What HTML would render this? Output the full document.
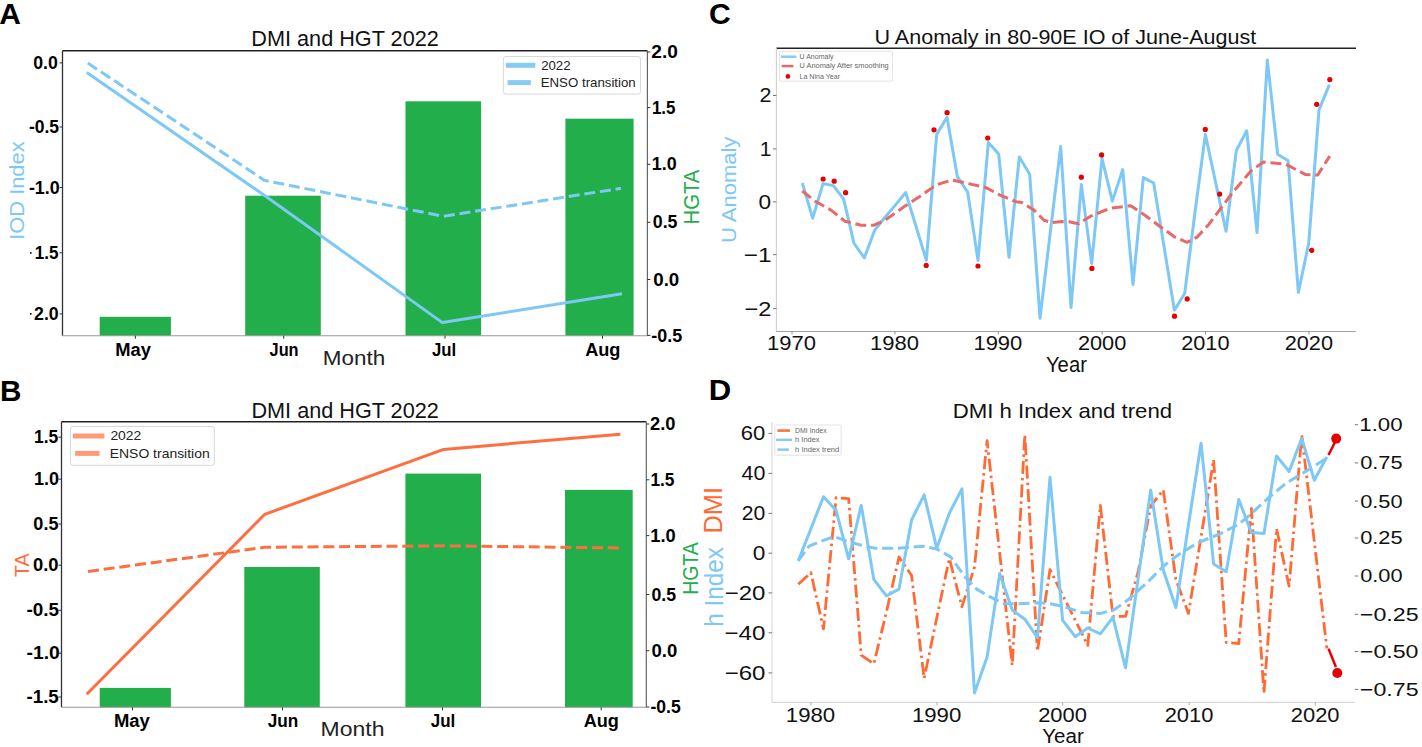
<!DOCTYPE html>
<html><head><meta charset="utf-8"><title>Figure</title>
<style>html,body{margin:0;padding:0;background:#fff;} svg{display:block;} text{font-family:"Liberation Sans", sans-serif;}</style>
</head><body>
<svg width="1422" height="747" viewBox="0 0 1422 747">
<rect x="0" y="0" width="1422" height="747" fill="#fff"/>
<text x="-0.75" y="24.10" font-size="30.2" fill="#000" font-weight="bold" textLength="21.64" lengthAdjust="spacingAndGlyphs">A</text>
<text x="0.01" y="400.70" font-size="30.2" fill="#000" font-weight="bold" textLength="21.43" lengthAdjust="spacingAndGlyphs">B</text>
<text x="708.96" y="24.30" font-size="30.2" fill="#000" font-weight="bold" textLength="21.76" lengthAdjust="spacingAndGlyphs">C</text>
<text x="708.72" y="400.20" font-size="30.2" fill="#000" font-weight="bold" textLength="22.49" lengthAdjust="spacingAndGlyphs">D</text>
<rect x="99.7" y="316.8" width="71.20" height="18.90" fill="#23AE4C"/>
<rect x="245.2" y="195.7" width="75.60" height="140.00" fill="#23AE4C"/>
<rect x="405.5" y="101.3" width="75.60" height="234.40" fill="#23AE4C"/>
<rect x="565.4" y="118.7" width="68.20" height="217.00" fill="#23AE4C"/>
<polyline points="86.80,72.60 265.30,196.00 442.40,322.60 622.00,293.70" fill="none" stroke="#7DC8F5" stroke-width="3" stroke-linejoin="round"/>
<polyline points="87.80,63.10 264.60,180.40 443.40,216.30 621.00,188.30" fill="none" stroke="#7DC8F5" stroke-width="3" stroke-linejoin="round" stroke-dasharray="11,4.8"/>
<line x1="62.5" y1="50.8" x2="647.4" y2="50.8" stroke="#222" stroke-width="1.5"/>
<line x1="62.5" y1="50.8" x2="62.5" y2="335.7" stroke="#333" stroke-width="1.3"/>
<line x1="62.5" y1="335.7" x2="647.4" y2="335.7" stroke="#999" stroke-width="1.1"/>
<line x1="647.4" y1="50.8" x2="647.4" y2="335.7" stroke="#666" stroke-width="1.2"/>
<line x1="59.5" y1="62.9" x2="62.5" y2="62.9" stroke="#333" stroke-width="1"/>
<text x="33.20" y="69.09" font-size="18" fill="#000" font-weight="bold" textLength="24.63" lengthAdjust="spacingAndGlyphs">0.0</text>
<line x1="59.5" y1="127.0" x2="62.5" y2="127.0" stroke="#333" stroke-width="1"/>
<text x="28.92" y="133.19" font-size="18" fill="#000" font-weight="bold" textLength="30.17" lengthAdjust="spacingAndGlyphs">-0.5</text>
<line x1="59.5" y1="187.5" x2="62.5" y2="187.5" stroke="#333" stroke-width="1"/>
<text x="28.90" y="193.69" font-size="18" fill="#000" font-weight="bold" textLength="30.83" lengthAdjust="spacingAndGlyphs">-1.0</text>
<line x1="59.5" y1="252.8" x2="62.5" y2="252.8" stroke="#333" stroke-width="1"/>
<text x="34.72" y="258.99" font-size="18" fill="#000" font-weight="bold" textLength="23.75" lengthAdjust="spacingAndGlyphs">1.5</text>
<line x1="59.5" y1="313.9" x2="62.5" y2="313.9" stroke="#333" stroke-width="1"/>
<text x="34.09" y="320.09" font-size="18" fill="#000" font-weight="bold" textLength="24.64" lengthAdjust="spacingAndGlyphs">2.0</text>
<rect x="30.0" y="252.0" width="1.60" height="1.80" fill="#222"/>
<rect x="30.0" y="313.0" width="1.60" height="1.80" fill="#222"/>
<line x1="647.4" y1="52.0" x2="650.4" y2="52.0" stroke="#333" stroke-width="1"/>
<text x="651.34" y="58.19" font-size="18" fill="#000" font-weight="bold" textLength="26.55" lengthAdjust="spacingAndGlyphs">2.0</text>
<line x1="647.4" y1="107.6" x2="650.4" y2="107.6" stroke="#333" stroke-width="1"/>
<text x="651.93" y="113.79" font-size="18" fill="#000" font-weight="bold" textLength="23.54" lengthAdjust="spacingAndGlyphs">1.5</text>
<line x1="647.4" y1="164.3" x2="650.4" y2="164.3" stroke="#333" stroke-width="1"/>
<text x="651.87" y="170.49" font-size="18" fill="#000" font-weight="bold" textLength="24.86" lengthAdjust="spacingAndGlyphs">1.0</text>
<line x1="647.4" y1="222.3" x2="650.4" y2="222.3" stroke="#333" stroke-width="1"/>
<text x="652.80" y="228.49" font-size="18" fill="#000" font-weight="bold" textLength="24.70" lengthAdjust="spacingAndGlyphs">0.5</text>
<line x1="647.4" y1="279.5" x2="650.4" y2="279.5" stroke="#333" stroke-width="1"/>
<text x="653.26" y="285.69" font-size="18" fill="#000" font-weight="bold" textLength="26.01" lengthAdjust="spacingAndGlyphs">0.0</text>
<line x1="647.4" y1="335.4" x2="650.4" y2="335.4" stroke="#333" stroke-width="1"/>
<text x="651.30" y="341.59" font-size="18" fill="#000" font-weight="bold" textLength="30.90" lengthAdjust="spacingAndGlyphs">-0.5</text>
<line x1="135.4" y1="335.7" x2="135.4" y2="338.7" stroke="#333" stroke-width="1"/>
<text x="115.17" y="355.50" font-size="18.7" fill="#000" font-weight="bold" textLength="35.73" lengthAdjust="spacingAndGlyphs">May</text>
<line x1="283.7" y1="335.7" x2="283.7" y2="338.7" stroke="#333" stroke-width="1"/>
<text x="269.55" y="355.50" font-size="18.7" fill="#000" font-weight="bold" textLength="29.06" lengthAdjust="spacingAndGlyphs">Jun</text>
<line x1="445.0" y1="335.7" x2="445.0" y2="338.7" stroke="#333" stroke-width="1"/>
<text x="432.05" y="355.50" font-size="18.7" fill="#000" font-weight="bold" textLength="24.24" lengthAdjust="spacingAndGlyphs">Jul</text>
<line x1="602.5" y1="335.7" x2="602.5" y2="338.7" stroke="#333" stroke-width="1"/>
<text x="585.15" y="355.50" font-size="18.7" fill="#000" font-weight="bold" textLength="35.27" lengthAdjust="spacingAndGlyphs">Aug</text>
<text x="322.86" y="364.70" font-size="20.3" fill="#222" font-weight="normal" textLength="62.40" lengthAdjust="spacingAndGlyphs">Month</text>
<text x="251.33" y="46.30" font-size="21.3" fill="#111" font-weight="normal" textLength="187.46" lengthAdjust="spacingAndGlyphs">DMI and HGT 2022</text>
<text transform="translate(24.30,237.80) rotate(-90)" x="-2.02" y="0" font-size="20.5" fill="#7DC8F5" font-weight="normal" textLength="98.45" lengthAdjust="spacingAndGlyphs">IOD Index</text>
<text transform="translate(699.20,222.80) rotate(-90)" x="-1.61" y="0" font-size="22" fill="#23AE4C" font-weight="normal" textLength="54.65" lengthAdjust="spacingAndGlyphs">HGTA</text>
<rect x="503.4" y="56.5" width="137.1" height="37.6" rx="2.5" fill="#fff" fill-opacity="0.85" stroke="#d8d8d8" stroke-width="1"/>
<line x1="505.9" y1="65.3" x2="535.3" y2="65.3" stroke="#86CCF7" stroke-width="5"/>
<line x1="507.6" y1="82.6" x2="530.8" y2="82.6" stroke="#86CCF7" stroke-width="5"/>
<text x="541.13" y="70.00" font-size="13.7" fill="#222" font-weight="normal" textLength="29.43" lengthAdjust="spacingAndGlyphs">2022</text>
<text x="540.71" y="86.70" font-size="13.2" fill="#222" font-weight="normal" textLength="95.05" lengthAdjust="spacingAndGlyphs">ENSO transition</text>
<rect x="99.7" y="687.9" width="71.20" height="19.40" fill="#23AE4C"/>
<rect x="244.3" y="567.0" width="75.50" height="140.30" fill="#23AE4C"/>
<rect x="405.4" y="473.6" width="75.60" height="233.70" fill="#23AE4C"/>
<rect x="565.0" y="489.9" width="67.70" height="217.40" fill="#23AE4C"/>
<polyline points="86.70,694.20 264.80,514.30 443.60,449.40 620.40,434.20" fill="none" stroke="#FF6E40" stroke-width="3" stroke-linejoin="round"/>
<polyline points="88.00,571.50 264.80,547.30 443.60,545.80 621.00,548.00" fill="none" stroke="#FF6E40" stroke-width="3" stroke-linejoin="round" stroke-dasharray="11,4.8"/>
<line x1="61.5" y1="421.8" x2="646.3" y2="421.8" stroke="#222" stroke-width="1.5"/>
<line x1="61.5" y1="421.8" x2="61.5" y2="707.3" stroke="#333" stroke-width="1.3"/>
<line x1="61.5" y1="707.3" x2="646.3" y2="707.3" stroke="#999" stroke-width="1.1"/>
<line x1="646.3" y1="421.8" x2="646.3" y2="707.3" stroke="#666" stroke-width="1.2"/>
<line x1="58.5" y1="437.2" x2="61.5" y2="437.2" stroke="#333" stroke-width="1"/>
<text x="34.00" y="443.39" font-size="18" fill="#000" font-weight="bold" textLength="24.29" lengthAdjust="spacingAndGlyphs">1.5</text>
<line x1="58.5" y1="479.2" x2="61.5" y2="479.2" stroke="#333" stroke-width="1"/>
<text x="33.96" y="485.39" font-size="18" fill="#000" font-weight="bold" textLength="25.08" lengthAdjust="spacingAndGlyphs">1.0</text>
<line x1="58.5" y1="524.0" x2="61.5" y2="524.0" stroke="#333" stroke-width="1"/>
<text x="33.39" y="530.19" font-size="18" fill="#000" font-weight="bold" textLength="25.12" lengthAdjust="spacingAndGlyphs">0.5</text>
<line x1="58.5" y1="565.2" x2="61.5" y2="565.2" stroke="#333" stroke-width="1"/>
<text x="32.97" y="571.39" font-size="18" fill="#000" font-weight="bold" textLength="25.58" lengthAdjust="spacingAndGlyphs">0.0</text>
<line x1="58.5" y1="610.3" x2="61.5" y2="610.3" stroke="#333" stroke-width="1"/>
<text x="26.46" y="616.49" font-size="18" fill="#000" font-weight="bold" textLength="32.56" lengthAdjust="spacingAndGlyphs">-0.5</text>
<line x1="58.5" y1="653.2" x2="61.5" y2="653.2" stroke="#333" stroke-width="1"/>
<text x="26.44" y="659.39" font-size="18" fill="#000" font-weight="bold" textLength="33.35" lengthAdjust="spacingAndGlyphs">-1.0</text>
<line x1="58.5" y1="697.0" x2="61.5" y2="697.0" stroke="#333" stroke-width="1"/>
<text x="26.47" y="703.19" font-size="18" fill="#000" font-weight="bold" textLength="32.36" lengthAdjust="spacingAndGlyphs">-1.5</text>
<line x1="646.3" y1="424.0" x2="649.3" y2="424.0" stroke="#333" stroke-width="1"/>
<text x="650.06" y="430.19" font-size="18" fill="#000" font-weight="bold" textLength="25.49" lengthAdjust="spacingAndGlyphs">2.0</text>
<line x1="646.3" y1="479.8" x2="649.3" y2="479.8" stroke="#333" stroke-width="1"/>
<text x="650.41" y="485.99" font-size="18" fill="#000" font-weight="bold" textLength="24.07" lengthAdjust="spacingAndGlyphs">1.5</text>
<line x1="646.3" y1="535.6" x2="649.3" y2="535.6" stroke="#333" stroke-width="1"/>
<text x="650.35" y="541.79" font-size="18" fill="#000" font-weight="bold" textLength="25.40" lengthAdjust="spacingAndGlyphs">1.0</text>
<line x1="646.3" y1="594.5" x2="649.3" y2="594.5" stroke="#333" stroke-width="1"/>
<text x="651.50" y="600.69" font-size="18" fill="#000" font-weight="bold" textLength="24.59" lengthAdjust="spacingAndGlyphs">0.5</text>
<line x1="646.3" y1="650.7" x2="649.3" y2="650.7" stroke="#333" stroke-width="1"/>
<text x="651.47" y="656.89" font-size="18" fill="#000" font-weight="bold" textLength="25.79" lengthAdjust="spacingAndGlyphs">0.0</text>
<line x1="646.3" y1="707.0" x2="649.3" y2="707.0" stroke="#333" stroke-width="1"/>
<text x="650.51" y="713.19" font-size="18" fill="#000" font-weight="bold" textLength="30.28" lengthAdjust="spacingAndGlyphs">-0.5</text>
<line x1="132.5" y1="707.3" x2="132.5" y2="710.3" stroke="#333" stroke-width="1"/>
<text x="113.96" y="726.80" font-size="18.7" fill="#000" font-weight="bold" textLength="35.93" lengthAdjust="spacingAndGlyphs">May</text>
<line x1="282.5" y1="707.3" x2="282.5" y2="710.3" stroke="#333" stroke-width="1"/>
<text x="267.64" y="726.80" font-size="18.7" fill="#000" font-weight="bold" textLength="30.63" lengthAdjust="spacingAndGlyphs">Jun</text>
<line x1="442.5" y1="707.3" x2="442.5" y2="710.3" stroke="#333" stroke-width="1"/>
<text x="430.74" y="726.80" font-size="18.7" fill="#000" font-weight="bold" textLength="24.56" lengthAdjust="spacingAndGlyphs">Jul</text>
<line x1="601.2" y1="707.3" x2="601.2" y2="710.3" stroke="#333" stroke-width="1"/>
<text x="583.65" y="726.80" font-size="18.7" fill="#000" font-weight="bold" textLength="35.27" lengthAdjust="spacingAndGlyphs">Aug</text>
<text x="320.61" y="736.10" font-size="20.3" fill="#222" font-weight="normal" textLength="63.88" lengthAdjust="spacingAndGlyphs">Month</text>
<text x="251.43" y="418.30" font-size="21.3" fill="#111" font-weight="normal" textLength="187.36" lengthAdjust="spacingAndGlyphs">DMI and HGT 2022</text>
<text transform="translate(29.40,576.60) rotate(-90)" x="-0.42" y="0" font-size="21" fill="#FF6E40" font-weight="normal" textLength="23.75" lengthAdjust="spacingAndGlyphs">TA</text>
<text transform="translate(698.00,593.20) rotate(-90)" x="-1.55" y="0" font-size="22" fill="#23AE4C" font-weight="normal" textLength="52.49" lengthAdjust="spacingAndGlyphs">HGTA</text>
<rect x="70.5" y="426.5" width="143.8" height="38.8" rx="2.5" fill="#fff" fill-opacity="0.85" stroke="#d8d8d8" stroke-width="1"/>
<line x1="72.9" y1="436.1" x2="104.4" y2="436.1" stroke="#FF9A78" stroke-width="5"/>
<line x1="75.2" y1="453.4" x2="99.6" y2="453.4" stroke="#FF9A78" stroke-width="5"/>
<text x="110.40" y="440.30" font-size="13.7" fill="#222" font-weight="normal" textLength="30.90" lengthAdjust="spacingAndGlyphs">2022</text>
<text x="109.76" y="457.90" font-size="13.2" fill="#222" font-weight="normal" textLength="99.95" lengthAdjust="spacingAndGlyphs">ENSO transition</text>
<polyline points="802.33,183.00 812.67,218.20 823.00,183.60 833.34,185.60 843.67,199.10 854.00,243.30 864.34,257.90 874.67,230.20 885.01,217.20 895.34,205.10 905.67,192.50 916.01,226.20 926.34,260.40 936.68,134.40 947.01,117.30 957.34,176.60 967.68,192.10 978.01,260.40 988.35,142.50 998.68,154.10 1009.01,257.30 1019.35,156.90 1029.68,174.20 1040.02,318.20 1050.35,232.00 1060.68,146.50 1071.02,307.60 1081.35,184.60 1091.69,263.40 1102.02,158.50 1112.35,201.10 1122.69,169.60 1133.02,284.50 1143.36,177.60 1153.69,183.00 1164.02,246.50 1174.36,310.10 1184.69,293.50 1195.03,212.00 1205.36,134.40 1215.69,182.80 1226.03,231.20 1236.36,150.50 1246.70,130.80 1257.03,232.60 1267.36,60.10 1277.70,154.50 1288.03,160.50 1298.37,292.50 1308.70,243.30 1319.03,109.90 1329.37,84.60" fill="none" stroke="#7DC8F5" stroke-width="3" stroke-linejoin="round"/>
<polyline points="802.30,191.00 815.00,201.10 831.00,210.10 845.00,221.20 861.00,225.20 874.00,225.20 885.00,220.20 905.00,206.10 919.00,197.10 936.00,185.00 951.70,180.00 965.70,183.00 986.00,187.60 1000.00,195.10 1016.00,201.70 1022.00,202.50 1034.00,210.10 1044.00,220.20 1052.00,222.60 1062.00,221.60 1069.00,221.80 1078.50,223.80 1090.50,216.20 1110.60,208.10 1130.70,205.70 1146.00,216.00 1161.00,227.20 1175.00,237.20 1187.00,242.30 1197.00,237.20 1209.00,224.20 1221.00,208.10 1233.00,192.00 1251.40,170.50 1263.50,162.10 1285.60,164.10 1305.70,174.60 1317.70,175.00 1329.80,156.10" fill="none" stroke="#E8696A" stroke-width="3" stroke-linejoin="round" stroke-dasharray="11,4.8"/>
<circle cx="823.1" cy="179" r="2.6" fill="#E60000"/>
<circle cx="834.2" cy="181.2" r="2.6" fill="#E60000"/>
<circle cx="845.6" cy="192.7" r="2.6" fill="#E60000"/>
<circle cx="926.2" cy="265.4" r="2.6" fill="#E60000"/>
<circle cx="934" cy="129.8" r="2.6" fill="#E60000"/>
<circle cx="947.1" cy="112.7" r="2.6" fill="#E60000"/>
<circle cx="978" cy="266" r="2.6" fill="#E60000"/>
<circle cx="987.7" cy="138" r="2.6" fill="#E60000"/>
<circle cx="1081.3" cy="177.2" r="2.6" fill="#E60000"/>
<circle cx="1091.9" cy="268.4" r="2.6" fill="#E60000"/>
<circle cx="1101.6" cy="154.9" r="2.6" fill="#E60000"/>
<circle cx="1174.5" cy="316.2" r="2.6" fill="#E60000"/>
<circle cx="1187.2" cy="298.9" r="2.6" fill="#E60000"/>
<circle cx="1205.3" cy="129.4" r="2.6" fill="#E60000"/>
<circle cx="1219.7" cy="194.1" r="2.6" fill="#E60000"/>
<circle cx="1311.7" cy="250.3" r="2.6" fill="#E60000"/>
<circle cx="1316.7" cy="104.3" r="2.6" fill="#E60000"/>
<circle cx="1329.8" cy="79.6" r="2.6" fill="#E60000"/>
<line x1="776.4" y1="48.2" x2="1356.0" y2="48.2" stroke="#222" stroke-width="1.5"/>
<line x1="776.4" y1="48.2" x2="776.4" y2="331.5" stroke="#d0d0d0" stroke-width="1.1"/>
<line x1="776.1" y1="331.5" x2="1355.7" y2="331.5" stroke="#a0a0a0" stroke-width="1.2"/>
<line x1="773" y1="95.5" x2="776.4" y2="95.5" stroke="#555" stroke-width="0.8"/>
<text x="759.42" y="102.48" font-size="20.3" fill="#111" font-weight="normal" textLength="11.96" lengthAdjust="spacingAndGlyphs">2</text>
<line x1="773" y1="148.9" x2="776.4" y2="148.9" stroke="#555" stroke-width="0.8"/>
<text x="759.71" y="155.88" font-size="20.3" fill="#111" font-weight="normal" textLength="11.61" lengthAdjust="spacingAndGlyphs">1</text>
<line x1="773" y1="201.8" x2="776.4" y2="201.8" stroke="#555" stroke-width="0.8"/>
<text x="758.62" y="208.78" font-size="20.3" fill="#111" font-weight="normal" textLength="12.57" lengthAdjust="spacingAndGlyphs">0</text>
<line x1="773" y1="254.6" x2="776.4" y2="254.6" stroke="#555" stroke-width="0.8"/>
<text x="743.70" y="261.58" font-size="20.3" fill="#111" font-weight="normal" textLength="27.79" lengthAdjust="spacingAndGlyphs">&#8722;1</text>
<line x1="773" y1="308.6" x2="776.4" y2="308.6" stroke="#555" stroke-width="0.8"/>
<text x="744.64" y="315.58" font-size="20.3" fill="#111" font-weight="normal" textLength="26.85" lengthAdjust="spacingAndGlyphs">&#8722;2</text>
<line x1="792.0" y1="331.5" x2="792.0" y2="334.5" stroke="#777" stroke-width="0.8"/>
<text x="767.12" y="350.30" font-size="20" fill="#111" font-weight="normal" textLength="48.93" lengthAdjust="spacingAndGlyphs">1970</text>
<line x1="894.9" y1="331.5" x2="894.9" y2="334.5" stroke="#777" stroke-width="0.8"/>
<text x="870.02" y="350.30" font-size="20" fill="#111" font-weight="normal" textLength="48.93" lengthAdjust="spacingAndGlyphs">1980</text>
<line x1="998.3" y1="331.5" x2="998.3" y2="334.5" stroke="#777" stroke-width="0.8"/>
<text x="973.42" y="350.30" font-size="20" fill="#111" font-weight="normal" textLength="48.93" lengthAdjust="spacingAndGlyphs">1990</text>
<line x1="1102.2" y1="331.5" x2="1102.2" y2="334.5" stroke="#777" stroke-width="0.8"/>
<text x="1077.91" y="350.30" font-size="20" fill="#111" font-weight="normal" textLength="48.34" lengthAdjust="spacingAndGlyphs">2000</text>
<line x1="1205.5" y1="331.5" x2="1205.5" y2="334.5" stroke="#777" stroke-width="0.8"/>
<text x="1181.21" y="350.30" font-size="20" fill="#111" font-weight="normal" textLength="48.34" lengthAdjust="spacingAndGlyphs">2010</text>
<line x1="1309.0" y1="331.5" x2="1309.0" y2="334.5" stroke="#777" stroke-width="0.8"/>
<text x="1284.71" y="350.30" font-size="20" fill="#111" font-weight="normal" textLength="48.34" lengthAdjust="spacingAndGlyphs">2020</text>
<text x="1045.97" y="372.20" font-size="21.2" fill="#111" font-weight="normal" textLength="40.95" lengthAdjust="spacingAndGlyphs">Year</text>
<text x="874.54" y="44.00" font-size="20.3" fill="#111" font-weight="normal" textLength="381.61" lengthAdjust="spacingAndGlyphs">U Anomaly in 80-90E IO of June-August</text>
<text transform="translate(735.90,241.30) rotate(-90)" x="-1.68" y="0" font-size="20.6" fill="#7DC8F5" font-weight="normal" textLength="106.32" lengthAdjust="spacingAndGlyphs">U Anomaly</text>
<rect x="779.5" y="51.3" width="113.1" height="29.9" rx="1.5" fill="#fff" fill-opacity="0.85" stroke="#dcdcdc" stroke-width="0.8"/>
<line x1="780.9" y1="56.7" x2="796.3" y2="56.7" stroke="#86CCF7" stroke-width="2.5"/>
<line x1="781.6" y1="66.1" x2="793.5" y2="66.1" stroke="#E8696A" stroke-width="2.5"/>
<circle cx="787.9" cy="76.4" r="2.3" fill="#E60000"/>
<text x="799.56" y="59.00" font-size="6.8" fill="#666" font-weight="normal" textLength="33.95" lengthAdjust="spacingAndGlyphs">U Anomaly</text>
<text x="799.54" y="68.30" font-size="6.8" fill="#666" font-weight="normal" textLength="89.14" lengthAdjust="spacingAndGlyphs">U Anomaly After smoothing</text>
<text x="799.53" y="78.60" font-size="6.8" fill="#666" font-weight="normal" textLength="40.59" lengthAdjust="spacingAndGlyphs">La Nina Year</text>
<polyline points="798.31,584.30 810.90,572.60 823.49,628.90 836.07,497.70 848.65,498.60 861.24,655.10 873.82,663.90 886.41,612.00 899.00,557.00 911.58,575.50 924.16,678.40 936.75,618.00 949.34,558.50 961.92,606.80 974.50,567.00 987.09,440.60 999.67,553.00 1012.26,665.30 1024.85,434.60 1037.43,651.30 1050.01,569.70 1062.60,595.00 1075.18,620.00 1087.77,645.40 1100.36,505.40 1112.94,616.30 1125.53,616.30 1138.11,572.00 1150.69,506.00 1163.28,489.90 1175.87,579.40 1188.45,613.40 1201.04,537.00 1213.62,459.80 1226.20,642.50 1238.79,643.50 1251.38,508.30 1263.96,693.00 1276.55,528.70 1289.13,586.20 1301.72,434.60 1314.30,541.50 1326.88,648.30" fill="none" stroke="#FF6A35" stroke-width="2.8" stroke-linejoin="round" stroke-dasharray="13,4,2.5,4"/>
<polyline points="798.31,560.80 810.90,528.70 823.49,496.70 836.07,510.30 848.65,558.80 861.24,505.40 873.82,579.40 886.41,595.90 899.00,589.10 911.58,520.00 924.16,494.80 936.75,548.20 949.34,513.20 961.92,488.90 974.50,693.00 987.09,657.10 999.67,573.60 1012.26,610.00 1024.85,619.20 1037.43,637.70 1050.01,477.30 1062.60,620.20 1075.18,636.70 1087.77,628.00 1100.36,633.80 1112.94,617.30 1125.53,667.80 1138.11,578.90 1150.69,489.90 1163.28,570.00 1175.87,607.60 1188.45,525.00 1201.04,443.30 1213.62,563.90 1226.20,571.70 1238.79,499.60 1251.38,532.60 1263.96,533.60 1276.55,455.90 1289.13,471.50 1301.72,438.40 1314.30,480.20 1326.88,456.90" fill="none" stroke="#7DC8F5" stroke-width="3" stroke-linejoin="round"/>
<polyline points="798.30,560.80 809.00,546.20 820.50,541.40 834.00,536.50 847.70,541.40 861.30,545.20 874.90,548.20 898.20,548.20 923.50,546.20 937.00,549.10 950.60,556.90 965.00,577.00 976.70,589.10 990.20,596.90 1003.80,603.70 1017.40,603.70 1038.80,602.70 1050.40,603.70 1064.00,606.60 1081.50,612.40 1100.90,613.40 1114.50,609.50 1128.10,599.80 1139.80,589.10 1151.40,578.40 1163.50,566.00 1179.40,554.00 1198.80,542.30 1218.30,534.60 1237.70,524.90 1247.40,517.10 1268.70,497.70 1286.20,483.10 1305.60,471.50 1327.00,457.90" fill="none" stroke="#7DC8F5" stroke-width="3" stroke-linejoin="round" stroke-dasharray="11,4.8"/>
<line x1="1328.5" y1="455.0" x2="1336.1" y2="440.0" stroke="#E60000" stroke-width="2.5"/>
<circle cx="1336.2" cy="438.6" r="5" fill="#E60000"/>
<line x1="1328.5" y1="648.6" x2="1335.9" y2="667.0" stroke="#E60000" stroke-width="2.5"/>
<circle cx="1337.3" cy="673.0" r="5" fill="#E60000"/>
<line x1="772.0" y1="422.2" x2="772.0" y2="702.4" stroke="#d8d8d8" stroke-width="1.1"/>
<line x1="772.0" y1="702.4" x2="1354.8" y2="702.4" stroke="#d8d8d8" stroke-width="1.1"/>
<line x1="768.5" y1="433.4" x2="772" y2="433.4" stroke="#555" stroke-width="0.8"/>
<text x="740.88" y="440.38" font-size="20.3" fill="#111" font-weight="normal" textLength="24.48" lengthAdjust="spacingAndGlyphs">60</text>
<line x1="768.5" y1="473.4" x2="772" y2="473.4" stroke="#555" stroke-width="0.8"/>
<text x="741.51" y="480.38" font-size="20.3" fill="#111" font-weight="normal" textLength="23.83" lengthAdjust="spacingAndGlyphs">40</text>
<line x1="768.5" y1="513.4" x2="772" y2="513.4" stroke="#555" stroke-width="0.8"/>
<text x="741.84" y="520.38" font-size="20.3" fill="#111" font-weight="normal" textLength="23.49" lengthAdjust="spacingAndGlyphs">20</text>
<line x1="768.5" y1="553.2" x2="772" y2="553.2" stroke="#555" stroke-width="0.8"/>
<text x="752.82" y="560.18" font-size="20.3" fill="#111" font-weight="normal" textLength="12.57" lengthAdjust="spacingAndGlyphs">0</text>
<line x1="768.5" y1="592.9" x2="772" y2="592.9" stroke="#555" stroke-width="0.8"/>
<text x="724.72" y="599.88" font-size="20.3" fill="#111" font-weight="normal" textLength="40.72" lengthAdjust="spacingAndGlyphs">&#8722;20</text>
<line x1="768.5" y1="632.8" x2="772" y2="632.8" stroke="#555" stroke-width="0.8"/>
<text x="724.51" y="639.78" font-size="20.3" fill="#111" font-weight="normal" textLength="40.93" lengthAdjust="spacingAndGlyphs">&#8722;40</text>
<line x1="768.5" y1="672.9" x2="772" y2="672.9" stroke="#555" stroke-width="0.8"/>
<text x="724.72" y="679.88" font-size="20.3" fill="#111" font-weight="normal" textLength="40.72" lengthAdjust="spacingAndGlyphs">&#8722;60</text>
<line x1="1354.8" y1="424.7" x2="1358.1" y2="424.7" stroke="#555" stroke-width="0.8"/>
<text x="1359.31" y="431.17" font-size="18.8" fill="#111" font-weight="normal" textLength="43.26" lengthAdjust="spacingAndGlyphs">1.00</text>
<line x1="1354.8" y1="462.9" x2="1358.1" y2="462.9" stroke="#555" stroke-width="0.8"/>
<text x="1360.15" y="469.37" font-size="18.8" fill="#111" font-weight="normal" textLength="42.47" lengthAdjust="spacingAndGlyphs">0.75</text>
<line x1="1354.8" y1="501.1" x2="1358.1" y2="501.1" stroke="#555" stroke-width="0.8"/>
<text x="1360.15" y="507.57" font-size="18.8" fill="#111" font-weight="normal" textLength="42.40" lengthAdjust="spacingAndGlyphs">0.50</text>
<line x1="1354.8" y1="538.0" x2="1358.1" y2="538.0" stroke="#555" stroke-width="0.8"/>
<text x="1360.15" y="544.47" font-size="18.8" fill="#111" font-weight="normal" textLength="42.47" lengthAdjust="spacingAndGlyphs">0.25</text>
<line x1="1354.8" y1="576.0" x2="1358.1" y2="576.0" stroke="#555" stroke-width="0.8"/>
<text x="1360.15" y="582.47" font-size="18.8" fill="#111" font-weight="normal" textLength="42.40" lengthAdjust="spacingAndGlyphs">0.00</text>
<line x1="1354.8" y1="614.3" x2="1358.1" y2="614.3" stroke="#555" stroke-width="0.8"/>
<text x="1359.86" y="620.77" font-size="18.8" fill="#111" font-weight="normal" textLength="58.72" lengthAdjust="spacingAndGlyphs">&#8722;0.25</text>
<line x1="1354.8" y1="651.5" x2="1358.1" y2="651.5" stroke="#555" stroke-width="0.8"/>
<text x="1359.86" y="657.97" font-size="18.8" fill="#111" font-weight="normal" textLength="58.65" lengthAdjust="spacingAndGlyphs">&#8722;0.50</text>
<line x1="1354.8" y1="689.4" x2="1358.1" y2="689.4" stroke="#555" stroke-width="0.8"/>
<text x="1359.86" y="695.87" font-size="18.8" fill="#111" font-weight="normal" textLength="58.72" lengthAdjust="spacingAndGlyphs">&#8722;0.75</text>
<line x1="810.9" y1="702.4" x2="810.9" y2="705.5" stroke="#999" stroke-width="0.8"/>
<text x="785.81" y="721.80" font-size="20" fill="#111" font-weight="normal" textLength="49.36" lengthAdjust="spacingAndGlyphs">1980</text>
<line x1="937.0" y1="702.4" x2="937.0" y2="705.5" stroke="#999" stroke-width="0.8"/>
<text x="911.91" y="721.80" font-size="20" fill="#111" font-weight="normal" textLength="49.36" lengthAdjust="spacingAndGlyphs">1990</text>
<line x1="1062.7" y1="702.4" x2="1062.7" y2="705.5" stroke="#999" stroke-width="0.8"/>
<text x="1038.20" y="721.80" font-size="20" fill="#111" font-weight="normal" textLength="48.76" lengthAdjust="spacingAndGlyphs">2000</text>
<line x1="1189.2" y1="702.4" x2="1189.2" y2="705.5" stroke="#999" stroke-width="0.8"/>
<text x="1164.70" y="721.80" font-size="20" fill="#111" font-weight="normal" textLength="48.76" lengthAdjust="spacingAndGlyphs">2010</text>
<line x1="1315.3" y1="702.4" x2="1315.3" y2="705.5" stroke="#999" stroke-width="0.8"/>
<text x="1290.80" y="721.80" font-size="20" fill="#111" font-weight="normal" textLength="48.76" lengthAdjust="spacingAndGlyphs">2020</text>
<text x="1042.27" y="742.80" font-size="20" fill="#111" font-weight="normal" textLength="41.56" lengthAdjust="spacingAndGlyphs">Year</text>
<text x="952.68" y="417.60" font-size="20.3" fill="#111" font-weight="normal" textLength="219.45" lengthAdjust="spacingAndGlyphs">DMI h Index and trend</text>
<text transform="translate(722.70,625.00) rotate(-90)" x="-1.68" y="0" font-size="25" fill="#7DC8F5" font-weight="normal" textLength="79.64" lengthAdjust="spacingAndGlyphs">h Index</text>
<text transform="translate(722.30,531.40) rotate(-90)" x="-2.08" y="0" font-size="25" fill="#FF6A35" font-weight="normal" textLength="46.52" lengthAdjust="spacingAndGlyphs">DMI</text>
<rect x="774.8" y="425" width="66.3" height="30.2" rx="1.5" fill="#fff" fill-opacity="0.85" stroke="#dcdcdc" stroke-width="0.8"/>
<line x1="777.4" y1="430.6" x2="790.0" y2="430.6" stroke="#FF6A35" stroke-width="2.5"/>
<line x1="776.0" y1="439.8" x2="792.1" y2="439.8" stroke="#86CCF7" stroke-width="2.5"/>
<line x1="777.4" y1="449.6" x2="788.9" y2="449.6" stroke="#86CCF7" stroke-width="2.5"/>
<text x="795.03" y="432.80" font-size="6.8" fill="#666" font-weight="normal" textLength="31.64" lengthAdjust="spacingAndGlyphs">DMI Index</text>
<text x="795.08" y="442.00" font-size="6.8" fill="#666" font-weight="normal" textLength="24.50" lengthAdjust="spacingAndGlyphs">h Index</text>
<text x="795.07" y="451.80" font-size="6.8" fill="#666" font-weight="normal" textLength="44.21" lengthAdjust="spacingAndGlyphs">h Index trend</text>
</svg>
</body></html>
